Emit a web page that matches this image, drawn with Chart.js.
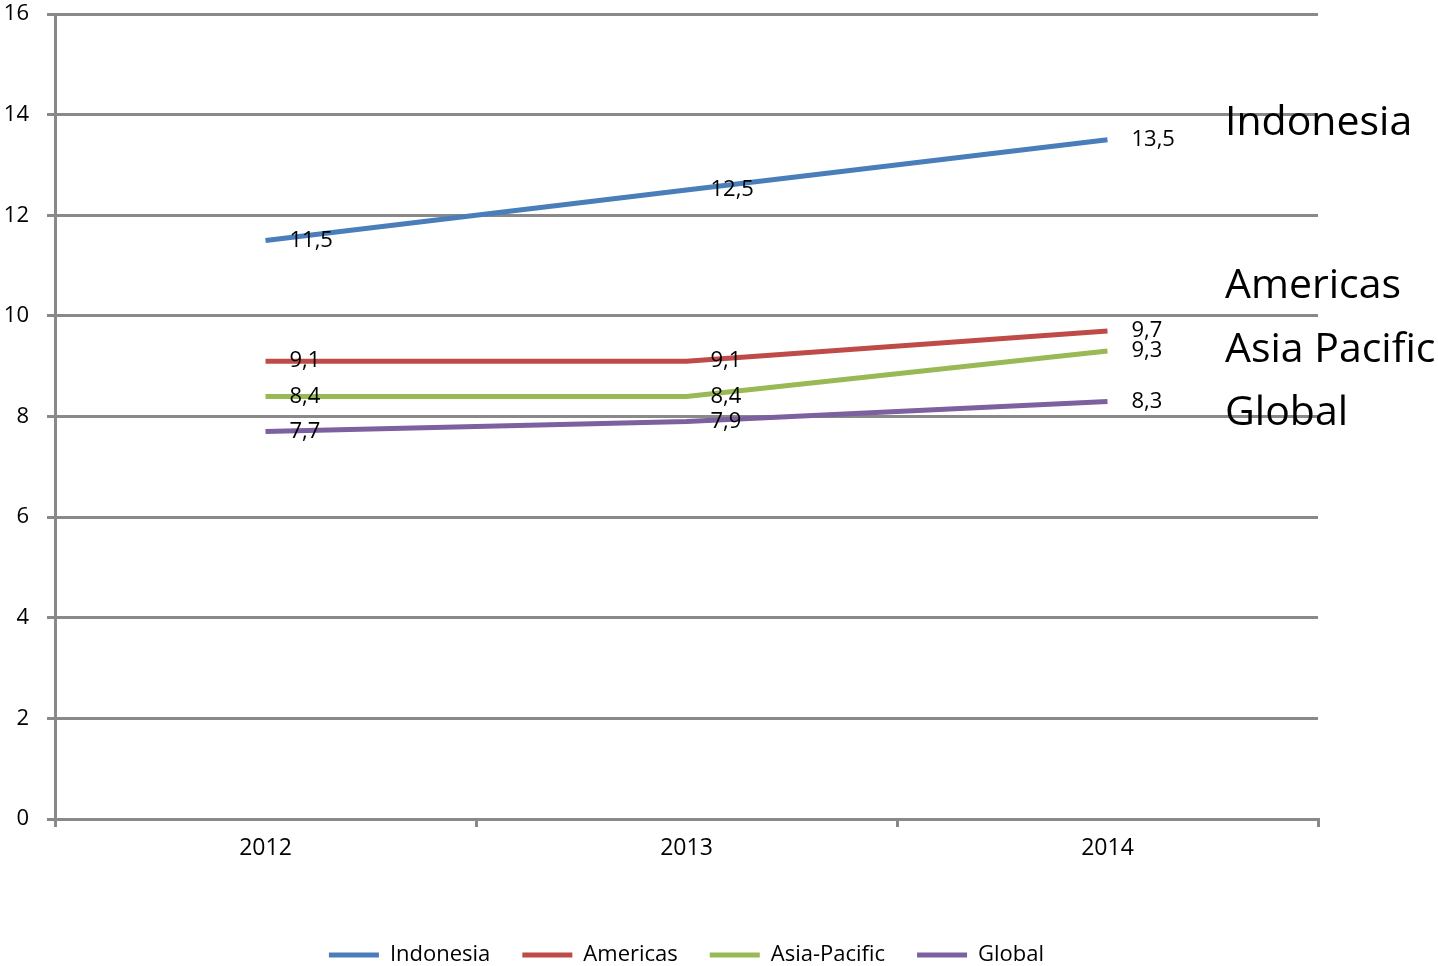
<!DOCTYPE html>
<html>
<head>
<meta charset="utf-8">
<title>Growth by region</title>
<script src="https://cdn.jsdelivr.net/npm/chart.js@4/dist/chart.umd.min.js"></script>
<style>
  html, body { margin: 0; padding: 0; background: #fff; }
  #wrap { width: 1438px; height: 966px; }
</style>
</head>
<body>
<div id="wrap"><canvas id="growthChart" width="1438" height="966"></canvas></div>
<script>
'use strict';

// ---- data ----
const years       = ['2012', '2013', '2014'];
const indonesia   = [11.5, 12.5, 13.5];
const americas    = [9.1, 9.1, 9.7];
const asiaPacific = [8.4, 8.4, 9.3];
const global      = [7.7, 7.9, 8.3];
const yMin = 0, yMax = 16, yStep = 2;

// names written large beside the plot, and the value each one sits on
const sideNames  = ['Indonesia', 'Americas', 'Asia Pacific', 'Global'];
const sideLevels = [13.6, 10.36, 9.08, 7.83];

const FONT = "'Open Sans', 'Noto Sans', sans-serif";
const GRID = '#898989';

const fmt = v => v.toFixed(1).replace('.', ',');

// value labels to the right of every point
const valueLabels = {
    id: 'valueLabels',
    afterDatasetsDraw(chart) {
        const ctx = chart.ctx;
        ctx.save();
        ctx.font = '22px ' + FONT;
        ctx.fillStyle = '#000';
        ctx.textAlign = 'left';
        ctx.textBaseline = 'middle';
        chart.data.datasets.forEach((ds, i) => {
            chart.getDatasetMeta(i).data.forEach((pt, j) => {
                ctx.fillText(fmt(ds.data[j]), pt.x + 24, pt.y);
            });
        });
        ctx.restore();
    }
};

// region names in the right margin
const sideTags = {
    id: 'sideTags',
    afterDraw(chart) {
        const ctx = chart.ctx;
        const y = chart.scales.y;
        ctx.save();
        ctx.font = '41px ' + FONT;
        ctx.fillStyle = '#000';
        ctx.textAlign = 'left';
        ctx.textBaseline = 'alphabetic';
        sideNames.forEach((name, i) => {
            ctx.fillText(name, chart.chartArea.right - 93, y.getPixelForValue(sideLevels[i]));
        });
        ctx.restore();
    }
};

function series(label, data, color) {
    return {
        label: label,
        data: data,
        borderColor: color,
        backgroundColor: color,
        borderWidth: 5,
        pointRadius: 0,
        pointHoverRadius: 0,
        tension: 0,
        fill: false
    };
}

new Chart(document.getElementById('growthChart'), {
    type: 'line',
    data: {
        labels: years,
        datasets: [
            series('Indonesia', indonesia, '#4a7ebb'),
            series('Americas', americas, '#be4b48'),
            series('Asia-Pacific', asiaPacific, '#98b954'),
            series('Global', global, '#7d60a0')
        ]
    },
    options: {
        responsive: false,
        animation: false,
        layout: { padding: { top: 14, right: 120, bottom: -10, left: 0 } },
        plugins: {
            tooltip: { enabled: false },
            legend: {
                position: 'bottom',
                fullSize: false,
                labels: {
                    font: { family: FONT, size: 22 },
                    color: '#000',
                    usePointStyle: true,
                    pointStyle: 'line',
                    pointStyleWidth: 50,
                    padding: 32
                }
            }
        },
        scales: {
            x: {
                offset: true,
                grid: {
                    offset: true,
                    drawOnChartArea: false,
                    color: GRID,
                    lineWidth: 3,
                    tickLength: 8
                },
                border: { color: GRID, width: 3 },
                ticks: {
                    font: { family: FONT, size: 23 },
                    color: '#000',
                    padding: 8,
                    maxRotation: 0
                },
                afterFit(scale) { scale.height = 93; }
            },
            y: {
                min: yMin,
                max: yMax,
                grid: { color: GRID, lineWidth: 3, tickLength: 8 },
                border: { color: GRID, width: 3 },
                ticks: {
                    stepSize: yStep,
                    font: { family: FONT, size: 22 },
                    color: '#000',
                    padding: 18
                },
                afterFit(scale) {
                    scale.width = 55;
                    // keep tick padding from pushing the plot down
                    scale.paddingTop = 0;
                    scale.paddingBottom = 0;
                }
            }
        }
    },
    plugins: [valueLabels, sideTags]
});
</script>
</body>
</html>
